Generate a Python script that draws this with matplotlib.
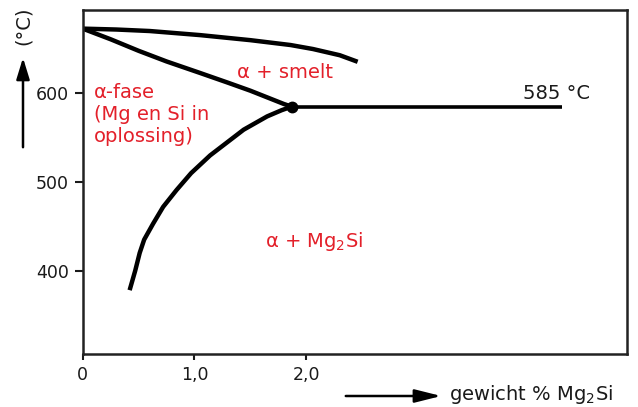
import matplotlib
matplotlib.use("Agg")
import matplotlib.pyplot as plt
from matplotlib.patches import FancyArrowPatch

plt.rcParams['font.family'] = ['DejaVu Sans']
plt.rcParams['mathtext.fontset'] = 'dejavusans'

# Data
liquidus_x = [0.0, 0.30, 0.60, 1.05, 1.50, 1.86, 2.06, 2.30, 2.46]
liquidus_T = [673, 672, 670.3, 665.7, 660, 654.5, 650, 643, 635.6]

solidus_x = [0.0, 0.25, 0.50, 0.75, 1.05, 1.30, 1.50, 1.80, 1.87]
solidus_T = [673, 661, 648, 636, 623, 612, 603, 588, 585]

solvus_x = [1.87, 1.78, 1.65, 1.44, 1.14, 0.97, 0.84, 0.72, 0.63, 0.55, 0.51, 0.47, 0.42]
solvus_T = [585, 581, 574, 559, 530, 510, 491, 472, 453, 435, 420, 400, 378]

eutectic_x = [1.87, 4.29]
eutectic_T = 585

x_ticks = [0, 1.0, 2.0]
x_ticklabels = ['0', '1,0', '2,0']
y_ticks = [400, 500, 600]
y_ticklabels = ['400', '500', '600']

red = '#e3202a'
dark = '#1a1a1a'

fig = plt.figure(figsize=(6.38, 4.07), dpi=100)
ax = fig.add_axes([0.1296, 0.1302, 0.9828 - 0.1296, 0.9754 - 0.1302])
ax.set_xlim(0, 4.87)
ax.set_ylim(306, 694)

lw = 3.2
ax.plot(liquidus_x, liquidus_T, color='black', lw=lw, solid_capstyle='butt', solid_joinstyle='round')
ax.plot(solidus_x, solidus_T, color='black', lw=lw, solid_capstyle='butt', solid_joinstyle='round')
ax.plot(solvus_x, solvus_T, color='black', lw=lw, solid_capstyle='butt', solid_joinstyle='round')
ax.plot(eutectic_x, [eutectic_T, eutectic_T], color='black', lw=2.6, solid_capstyle='butt')
ax.plot([eutectic_x[0]], [eutectic_T], 'o', color='black', markersize=7.5)

ax.set_xticks(x_ticks)
ax.set_xticklabels(x_ticklabels)
ax.set_yticks(y_ticks)
ax.set_yticklabels(y_ticklabels)
ax.tick_params(axis='x', direction='out', length=4, width=1.5, labelsize=12.5, colors=dark, pad=4.5)
ax.tick_params(axis='y', direction='out', length=6, width=1.5, labelsize=12.5, colors=dark, pad=4)
for s in ax.spines.values():
    s.set_linewidth(1.8)
    s.set_color('#222222')

# Region labels
fs = 14
ax.text(0.104, 595.0, 'α-fase', color=red, fontsize=fs, ha='left', va='baseline')
ax.text(0.104, 569.9, '(Mg en Si in', color=red, fontsize=fs, ha='left', va='baseline')
ax.text(0.104, 545.4, 'oplossing)', color=red, fontsize=fs, ha='left', va='baseline')
ax.text(1.382, 616.9, 'α + smelt', color=red, fontsize=fs, ha='left', va='baseline')
ax.text(1.632, 427, 'α + Mg$_2$Si', color=red, fontsize=fs, ha='left', va='baseline')
ax.text(3.94, 593.2, '585 °C', color=dark, fontsize=fs, ha='left', va='baseline')

# Axis labels with arrows
fig.text(23 / 638, 1 - 26 / 407, '(°C)', rotation=90, fontsize=fs, color=dark, ha='center', va='center')
fig.add_artist(FancyArrowPatch(
    (23 / 638, 1 - 150 / 407), (23 / 638, 1 - 55 / 407), transform=fig.transFigure,
    arrowstyle='-|>,head_length=13,head_width=4', color='black', lw=1.8, mutation_scale=1))
fig.add_artist(FancyArrowPatch(
    (343 / 638, 1 - 396 / 407), (444 / 638, 1 - 396 / 407), transform=fig.transFigure,
    arrowstyle='-|>,head_length=16,head_width=4', color='black', lw=1.8, mutation_scale=1))
fig.text(449 / 638, 1 - 395 / 407, 'gewicht % Mg$_2$Si', fontsize=fs, color=dark, ha='left', va='center')

fig.savefig('out.png', dpi=100)
